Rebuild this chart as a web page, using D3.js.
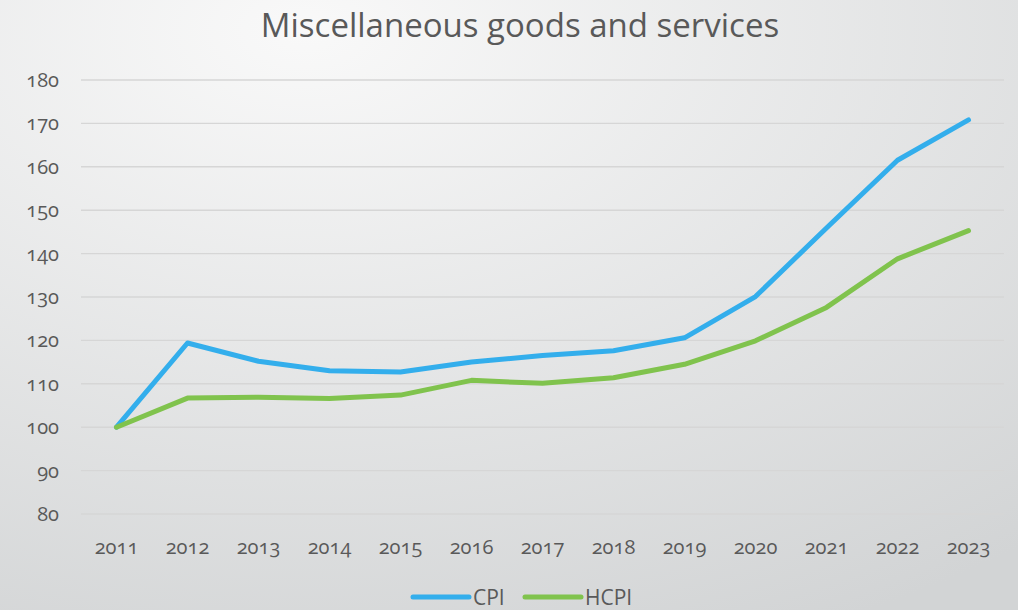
<!DOCTYPE html>
<html>
<head>
<meta charset="utf-8">
<script src="https://cdn.jsdelivr.net/npm/d3@7"></script>
<style>
html,body{margin:0;padding:0;}
body{width:1018px;height:610px;overflow:hidden;}
text{font-family:"Open Sans",sans-serif;font-variant-numeric:oldstyle-nums;fill:#595959;}
</style>
</head>
<body>
<svg id="chart" width="1018" height="610"></svg>
<script>
const years = ["2011","2012","2013","2014","2015","2016","2017","2018","2019","2020","2021","2022","2023"];
const cpi  = [100, 119.4, 115.2, 113.0, 112.7, 115.0, 116.5, 117.6, 120.6, 130.1, 145.9, 161.5, 170.8];
const hcpi = [100, 106.7, 106.9, 106.6, 107.4, 110.8, 110.1, 111.4, 114.5, 119.9, 127.6, 138.8, 145.3];
const yTicks = [80, 90, 100, 110, 120, 130, 140, 150, 160, 170, 180];
const seriesNames = ["CPI", "HCPI"];
const seriesColors = ["#33aeec", "#80c34d"];

(function(){
const svg = d3.select("#chart");
const W = 1018, H = 610;

const defs = svg.append("defs");
const grad = defs.append("radialGradient").attr("id","bg")
  .attr("cx","0.3").attr("cy","0.05").attr("r","1.1");
grad.append("stop").attr("offset","0").attr("stop-color","#f9f9f9");
grad.append("stop").attr("offset","1").attr("stop-color","#d2d4d5");
svg.append("rect").attr("width",W).attr("height",H).attr("fill","url(#bg)");

const pl = 81, pr = 1004, pt = 80, pb = 514;
const x = d3.scaleBand().domain(years).range([pl, pr]);
const y = d3.scaleLinear().domain([80, 180]).range([pb, pt]);

// gridlines
svg.append("g").selectAll("line").data(yTicks).join("line")
  .attr("x1", pl).attr("x2", pr)
  .attr("y1", d => y(d)).attr("y2", d => y(d))
  .attr("stroke", "#d6d6d6").attr("stroke-width", 1.4);

// y axis
const yAxis = d3.axisLeft(y).tickValues(yTicks).tickSize(0).tickPadding(0);
const gy = svg.append("g").attr("transform", `translate(${pl-22},0)`).call(yAxis);
gy.select(".domain").remove();
gy.selectAll("text").attr("font-size", 20).style("fill","#595959")
  .style("font-family",'"Open Sans",sans-serif').attr("dy","0.32em");

// x axis
const xAxis = d3.axisBottom(x).tickSize(0).tickPadding(0);
const gx = svg.append("g").attr("transform", `translate(0,${pb+26})`).call(xAxis);
gx.select(".domain").remove();
gx.selectAll("text").attr("font-size", 20).style("fill","#595959")
  .style("font-family",'"Open Sans",sans-serif').attr("dy","0.71em");

// lines
const line = d3.line().x((d,i) => x(years[i]) + x.bandwidth()/2).y(d => y(d));
[cpi, hcpi].forEach((s, k) => {
  svg.append("path").datum(s).attr("d", line)
    .attr("fill","none").attr("stroke", seriesColors[k])
    .attr("stroke-width", 5).attr("stroke-linejoin","round").attr("stroke-linecap","round");
});

// title
svg.append("text").attr("x", 520).attr("y", 37).attr("text-anchor","middle")
  .attr("font-size", 33).text("Miscellaneous goods and services");

// legend
const legX = [413, 525];
seriesNames.forEach((n, k) => {
  svg.append("line").attr("x1", legX[k]).attr("x2", legX[k]+56)
    .attr("y1", 597).attr("y2", 597)
    .attr("stroke", seriesColors[k]).attr("stroke-width", 5).attr("stroke-linecap","round");
  svg.append("text").attr("x", legX[k]+60).attr("y", 605).attr("font-size", 21).text(n);
});
})();
</script>
</body>
</html>
